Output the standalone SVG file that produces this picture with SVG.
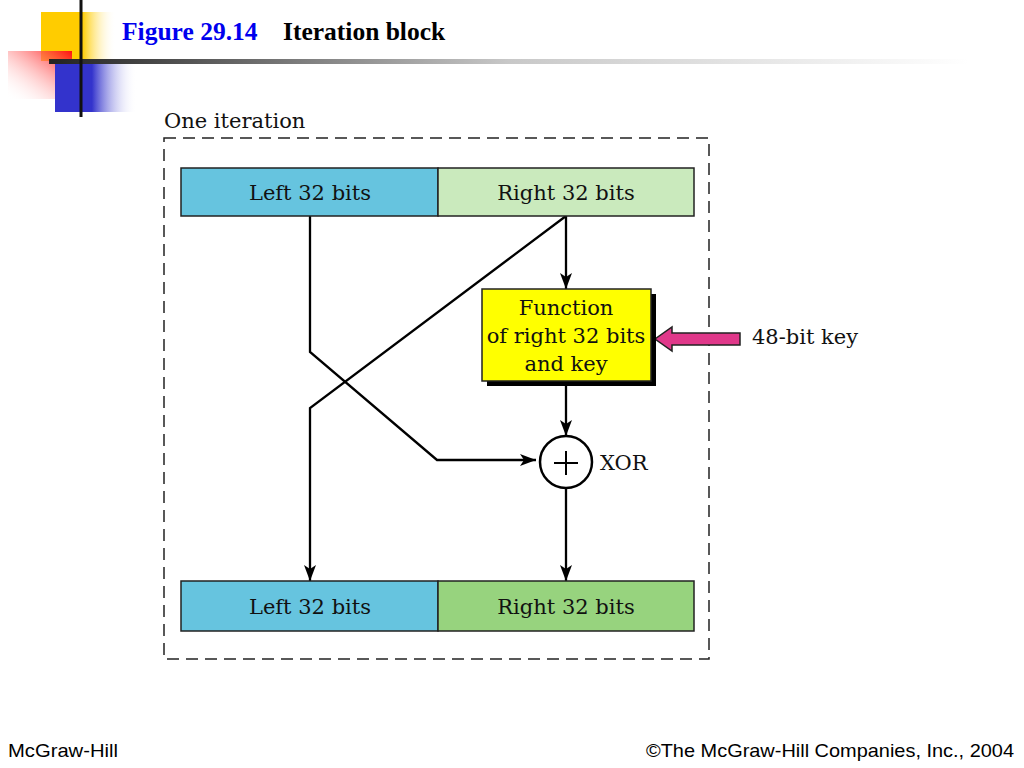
<svg xmlns="http://www.w3.org/2000/svg" width="1024" height="768" viewBox="0 0 1024 768">
<defs>
<linearGradient id="gY" x1="0" y1="0" x2="1" y2="0"><stop offset="0" stop-color="#FFCC00"/><stop offset="0.55" stop-color="#FFCC00"/><stop offset="1" stop-color="#FFFFFF" stop-opacity="0"/></linearGradient>
<linearGradient id="gR" x1="1" y1="0" x2="0" y2="1"><stop offset="0" stop-color="#FF1010"/><stop offset="1" stop-color="#FFFFFF" stop-opacity="0"/></linearGradient>
<linearGradient id="gB" x1="0" y1="0" x2="1" y2="0"><stop offset="0" stop-color="#3333CC"/><stop offset="0.45" stop-color="#3333CC"/><stop offset="1" stop-color="#FFFFFF" stop-opacity="0"/></linearGradient>
<linearGradient id="gL" x1="0" y1="0" x2="1" y2="0"><stop offset="0" stop-color="#222222"/><stop offset="0.5" stop-color="#C8C8C8"/><stop offset="1" stop-color="#FFFFFF"/></linearGradient>
<marker id="ah" viewBox="0 0 16 12" refX="16" refY="6" markerWidth="16" markerHeight="12" markerUnits="userSpaceOnUse" orient="auto"><path d="M0,0 L16,6 L0,12 L4,6 Z" fill="#000"/></marker>
</defs>
<style>
.t{font-family:"DejaVu Serif","Liberation Serif",serif;font-size:21px;fill:#111;}
.c{text-anchor:middle;}
.bar{stroke:#222;stroke-width:1.5;}
.ln{fill:none;stroke:#000;stroke-width:2.3;}
.ft{font-family:"Liberation Sans",Arial,sans-serif;font-size:19px;fill:#000;}
.hd{font-family:"Liberation Serif","Times New Roman",serif;font-weight:bold;font-size:25.5px;}
</style>
<g id="decor">
<rect x="41" y="12" width="75" height="49" fill="url(#gY)"/>
<rect x="8" y="51" width="64" height="48" fill="url(#gR)"/>
<rect x="55" y="61" width="82" height="51" fill="url(#gB)"/>
<rect x="49" y="59" width="920" height="5" fill="url(#gL)"/>
<rect x="79.5" y="0" width="3" height="117" fill="#111"/>
</g>
<g id="title">
<text class="hd" x="122" y="40" fill="#0000EE">Figure 29.14</text>
<text class="hd" x="283" y="40" fill="#000">Iteration block</text>
</g>
<g id="frame">
<rect x="164" y="138" width="545" height="521" fill="none" stroke="#222" stroke-width="1.5" stroke-dasharray="12,7"/>
<text class="t" x="164" y="128">One iteration</text>
</g>
<g id="connectors">
<polyline class="ln" points="310,216 310,352 437,460 536,460" marker-end="url(#ah)"/>
<polyline class="ln" points="566,216 310,408 310,581" marker-end="url(#ah)"/>
<line class="ln" x1="566" y1="216" x2="566" y2="289" marker-end="url(#ah)"/>
<line class="ln" x1="566" y1="381" x2="566" y2="436" marker-end="url(#ah)"/>
<line class="ln" x1="566" y1="488" x2="566" y2="581" marker-end="url(#ah)"/>
<path d="M740,333 L672,333 L672,327 L655,339 L672,351 L672,345 L740,345 Z" fill="#E0388A" stroke="#222" stroke-width="1.5"/>
</g>
<g id="top-left"><rect class="bar" x="181" y="168" width="257" height="48" fill="#66C4DF"/><text class="t c" x="310" y="200">Left 32 bits</text></g>
<g id="top-right"><rect class="bar" x="438" y="168" width="256" height="48" fill="#CAEABD"/><text class="t c" x="566" y="200">Right 32 bits</text></g>
<g id="function">
<rect x="487" y="294" width="169" height="92" fill="#000"/>
<rect x="482" y="289" width="169" height="92" fill="#FFFF00" stroke="#222" stroke-width="1.5"/>
<text class="t c" x="566" y="315">Function</text>
<text class="t c" x="566" y="343">of right 32 bits</text>
<text class="t c" x="566" y="371">and key</text>
</g>
<g id="key"><text class="t" x="752" y="344">48-bit key</text></g>
<g id="xor">
<circle cx="566" cy="462" r="26" fill="#fff" stroke="#000" stroke-width="2.5"/>
<path d="M554,463 H578 M566,451 V475" stroke="#000" stroke-width="2"/>
<text class="t" x="600" y="470">XOR</text>
</g>
<g id="bottom-left"><rect class="bar" x="181" y="581" width="257" height="50" fill="#66C4DF"/><text class="t c" x="310" y="614">Left 32 bits</text></g>
<g id="bottom-right"><rect class="bar" x="438" y="581" width="256" height="50" fill="#97D37E"/><text class="t c" x="566" y="614">Right 32 bits</text></g>
<g id="footer">
<text class="ft" x="8" y="757" textLength="110" lengthAdjust="spacingAndGlyphs">McGraw-Hill</text>
<text class="ft" x="646" y="757" textLength="368" lengthAdjust="spacingAndGlyphs">©The McGraw-Hill Companies, Inc., 2004</text>
</g>
</svg>
